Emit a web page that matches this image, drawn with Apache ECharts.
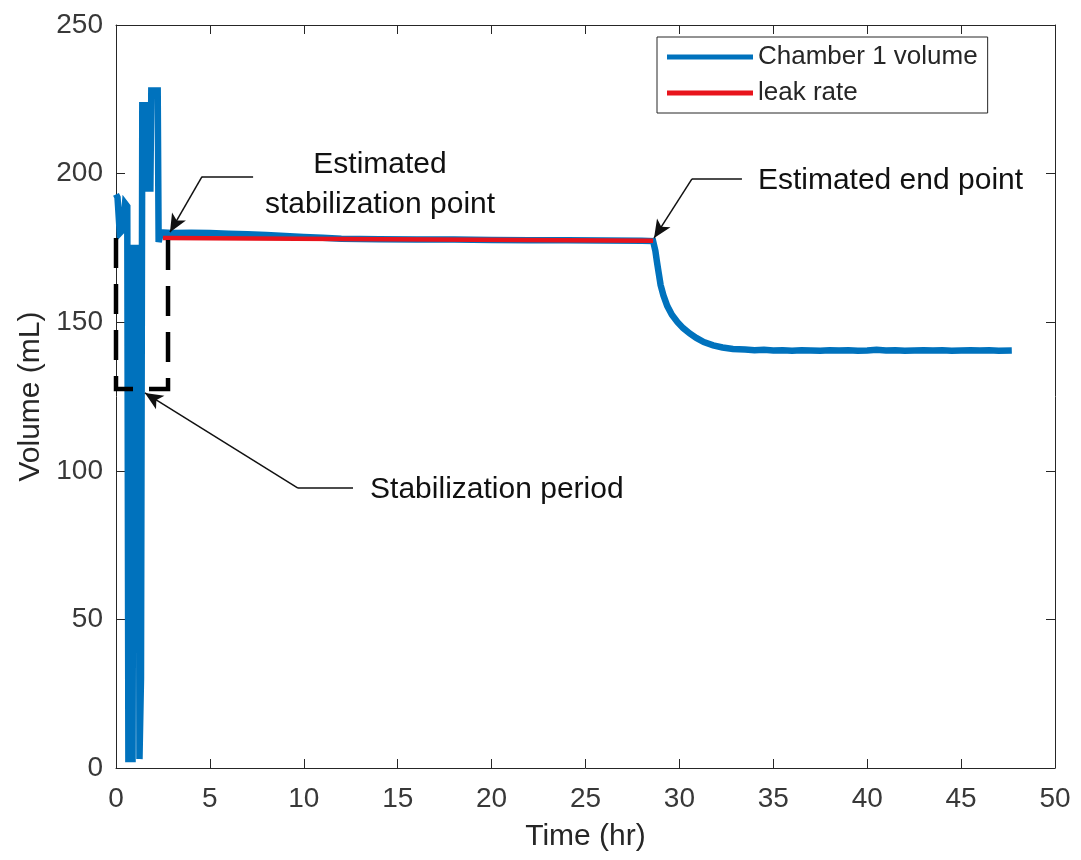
<!DOCTYPE html>
<html>
<head>
<meta charset="utf-8">
<title>Chamber 1 volume</title>
<script src="https://cdn.jsdelivr.net/npm/echarts@6/dist/echarts.min.js"></script>
<style>
  html, body { margin: 0; padding: 0; background: #ffffff; }
  #chart { width: 1081px; height: 860px; }
</style>
</head>
<body>
<div id="chart"></div>
<script>
// ---- data ----
// Chamber 1 volume (mL) over time (hr)
const volTime = [0, 0.08, 0.2, 0.35, 0.48, 0.6, 0.66, 0.88, 0.94, 1.2, 1.25, 1.3, 1.33, 1.4, 1.62, 1.67, 1.83, 1.88, 2.22, 2.27, 2.4,
  3, 4, 5, 6, 7, 8, 9, 10, 11, 12, 13, 14, 16, 18, 20, 22, 24, 26, 28, 28.6,
  28.65, 28.72, 28.8, 28.9, 29.0, 29.15, 29.35, 29.6, 29.9, 30.2, 30.55, 30.9, 31.3, 31.8, 32.3, 32.85, 33.5,
  34, 34.5, 35, 35.5, 36, 36.5, 37, 37.5, 38, 38.5, 39, 39.5, 40, 40.5, 41, 41.5, 42, 42.5, 43, 43.5, 44, 44.5, 45, 45.5, 46, 46.5, 47, 47.7];
const volume = [193, 192, 180, 181, 190, 189, 3, 3, 175, 175, 3, 3, 30, 223, 223, 195, 195, 228, 228, 177, 180.2,
  180.0, 180.1, 180.0, 179.8, 179.6, 179.3, 179.0, 178.7, 178.4, 178.1, 178.0, 177.9, 177.8, 177.8, 177.7, 177.6, 177.6, 177.5, 177.4, 177.3,
  177.0, 174.0, 170.5, 166.5, 162.5, 159.0, 155.5, 152.5, 150.0, 148.0, 146.2, 144.7, 143.3, 142.2, 141.5, 141.0, 140.8,
  140.6, 140.7, 140.5, 140.6, 140.4, 140.6, 140.5, 140.4, 140.6, 140.5, 140.6, 140.4, 140.5, 140.7, 140.5, 140.6, 140.4, 140.5, 140.6, 140.5, 140.6, 140.4, 140.5, 140.6, 140.5, 140.6, 140.4, 140.5];

// Fitted leak-rate line
const leakTime = [2.5, 28.6];
const leakVolume = [178.3, 177.4];

// Stabilization period bracket (hr, mL)
const bracketTime = [0, 0, 2.77, 2.77];
const bracketVolume = [178.3, 127.5, 127.5, 178.3];

// Callouts: text end of the leader, elbow, arrow tip (hr, mL)
const calloutStabPoint = [[7.30, 199.0], [4.58, 199.0], [2.875, 180.3]];
const calloutEndPoint = [[33.33, 198.2], [30.67, 198.2], [28.65, 178.3]];
const calloutStabPeriod = [[12.62, 94.2], [9.69, 94.2], [1.54, 126.2]];

// Callout text anchors (hr, mL)
const textStabPointLine1 = { text: 'Estimated', at: [14.06, 202.9], align: 'center' };
const textStabPointLine2 = { text: 'stabilization point', at: [14.06, 189.6], align: 'center' };
const textEndPoint = { text: 'Estimated end point', at: [34.18, 197.6], align: 'left' };
const textStabPeriod = { text: 'Stabilization period', at: [13.53, 93.5], align: 'left' };

// Axis ticks
const xMin = 0, xMax = 50, xStep = 5;
const yMin = 0, yMax = 250, yStep = 50;

// ---- chart ----
const FONT = '"Liberation Sans", Arial, Helvetica, sans-serif';
const AXIS_COLOR = '#262626';
const LABEL_COLOR = '#383838';
const BLUE = '#0072BD';
const RED = '#E8141C';

const zip = (xs, ys) => xs.map((x, i) => [x, ys[i]]);

function callout(points) {
  return [
    [{ coord: points[0], symbol: 'none' }, { coord: points[1], symbol: 'none' }],
    [{ coord: points[1], symbol: 'none' }, { coord: points[2], symbol: 'arrow', symbolSize: [12, 18] }]
  ];
}

const chart = echarts.init(document.getElementById('chart'), null, { renderer: 'canvas' });

const baseAxis = {
  axisLine: { show: true, onZero: false, lineStyle: { color: AXIS_COLOR, width: 1 } },
  axisTick: { show: true, inside: true, length: 9, lineStyle: { color: AXIS_COLOR, width: 1 } },
  splitLine: { show: false }
};

chart.setOption({
  animation: false,
  backgroundColor: '#ffffff',
  grid: { left: 116, right: 26, top: 25, bottom: 92 },
  legend: {
    data: ['Chamber 1 volume', 'leak rate'],
    orient: 'vertical',
    left: 657,
    top: 37,
    padding: [5, 10, 5, 10],
    itemGap: 6,
    itemWidth: 86,
    itemHeight: 5,
    icon: 'rect',
    backgroundColor: '#ffffff',
    borderColor: AXIS_COLOR,
    borderWidth: 1,
    borderRadius: 0,
    selectedMode: false,
    textStyle: { fontFamily: FONT, fontSize: 26, color: AXIS_COLOR, lineHeight: 30, padding: [0, 0, 0, 0] }
  },
  xAxis: [
    Object.assign({}, baseAxis, {
      type: 'value', min: xMin, max: xMax, interval: xStep, position: 'bottom',
      name: 'Time (hr)', nameLocation: 'middle', nameGap: 54,
      nameTextStyle: { fontFamily: FONT, fontSize: 30, color: AXIS_COLOR },
      axisLabel: { show: true, margin: 17, fontFamily: FONT, fontSize: 28, color: LABEL_COLOR }
    }),
    Object.assign({}, baseAxis, {
      type: 'value', min: xMin, max: xMax, interval: xStep, position: 'top',
      axisLabel: { show: false }
    })
  ],
  yAxis: [
    Object.assign({}, baseAxis, {
      type: 'value', min: yMin, max: yMax, interval: yStep, position: 'left',
      name: 'Volume (mL)', nameLocation: 'middle', nameGap: 57, nameRotate: 90,
      nameTextStyle: { fontFamily: FONT, fontSize: 30, color: AXIS_COLOR },
      axisLabel: { show: true, margin: 13, fontFamily: FONT, fontSize: 28, color: LABEL_COLOR }
    }),
    Object.assign({}, baseAxis, {
      type: 'value', min: yMin, max: yMax, interval: yStep, position: 'right',
      axisLabel: { show: false }
    })
  ],
  series: [
    {
      name: 'Chamber 1 volume',
      type: 'line',
      data: zip(volTime, volume),
      showSymbol: false,
      symbol: 'none',
      lineStyle: { color: BLUE, width: 6.5, join: 'miter', miterLimit: 4 },
      itemStyle: { color: BLUE },
      z: 2,
      silent: true
    },
    {
      name: 'leak rate',
      type: 'line',
      data: zip(leakTime, leakVolume),
      showSymbol: false,
      symbol: 'none',
      lineStyle: { color: RED, width: 4.5 },
      itemStyle: { color: RED },
      z: 3,
      silent: true
    },
    {
      name: 'bracket',
      type: 'line',
      data: zip(bracketTime, bracketVolume),
      showSymbol: false,
      symbol: 'none',
      lineStyle: { color: '#000000', width: 4.5, type: [30, 16], join: 'miter', cap: 'butt' },
      z: 4,
      silent: true,
      markLine: {
        silent: true,
        animation: false,
        symbol: ['none', 'none'],
        label: { show: false },
        lineStyle: { color: '#111111', width: 1.5, type: 'solid' },
        emphasis: { disabled: true },
        data: [].concat(callout(calloutStabPoint), callout(calloutEndPoint), callout(calloutStabPeriod))
      }
    }
  ]
});

// Callout texts, placed from data coordinates
function textEl(t) {
  const p = chart.convertToPixel({ gridIndex: 0 }, t.at);
  return {
    type: 'text',
    x: p[0], y: p[1],
    silent: true,
    z: 10,
    style: {
      text: t.text,
      fontFamily: FONT,
      fontSize: 30,
      fill: '#111111',
      align: t.align,
      verticalAlign: 'middle'
    }
  };
}

chart.setOption({
  graphic: [textStabPointLine1, textStabPointLine2, textEndPoint, textStabPeriod].map(textEl)
});
</script>
</body>
</html>
